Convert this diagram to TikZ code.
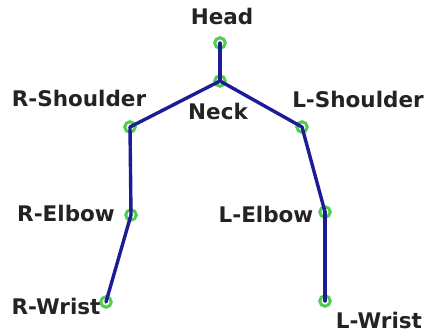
\documentclass[tikz,border=0pt]{standalone}
\usepackage{fontspec}
\setmainfont{DejaVu Sans}
\begin{document}
\begin{tikzpicture}[x=1pt,y=-1pt,
  joint/.style={circle,draw=jointgreen,line width=3pt,minimum size=10.5pt,inner sep=0pt},
  bone/.style={draw=bonenavy,line width=3.4pt,line cap=round},
  lbl/.style={font=\fontsize{21.5}{21.5}\selectfont\bfseries,text=labelgray,inner sep=0pt,anchor=base}]
\definecolor{jointgreen}{RGB}{80,205,80}
\definecolor{bonenavy}{RGB}{28,28,150}
\definecolor{labelgray}{RGB}{35,35,35}
\useasboundingbox (0,0) rectangle (426,336);
% joints
\node[joint] (head) at (220,43) {};
\node[joint] (neck) at (220,81) {};
\node[joint] (rsh) at (130,127) {};
\node[joint] (lsh) at (302,127) {};
\node[joint] (rel) at (131,215) {};
\node[joint] (lel) at (325,212) {};
\node[joint] (rwr) at (106,302) {};
\node[joint] (lwr) at (325,301) {};
% bones
\draw[bone] (head.center) -- (neck.center);
\draw[bone] (neck.center) -- (rsh.center);
\draw[bone] (neck.center) -- (lsh.center);
\draw[bone] (rsh.center) -- (rel.center);
\draw[bone] (rel.center) -- (rwr.center);
\draw[bone] (lsh.center) -- (lel.center);
\draw[bone] (lel.center) -- (lwr.center);
% labels
\node[lbl] (thead) at (222,25) {Head};
\node[lbl] (tneck) at (218,120) {Neck};
\node[lbl] (trsh) at (79,107) {R-Shoulder};
\node[lbl] (tlsh) at (358,108) {L-Shoulder};
\node[lbl] (trel) at (66,222) {R-Elbow};
\node[lbl] (tlel) at (266,223) {L-Elbow};
\node[lbl] (trwr) at (56,315) {R-Wrist};
\node[lbl] (tlwr) at (379,329) {L-Wrist};
\end{tikzpicture}
\end{document}
